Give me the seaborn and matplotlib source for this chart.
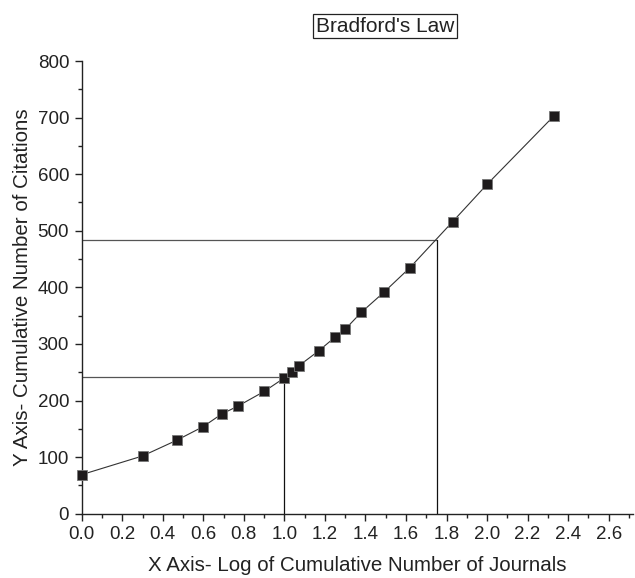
import matplotlib
matplotlib.use("Agg")
import matplotlib.pyplot as plt
import seaborn as sns
import pandas as pd
from matplotlib.ticker import MultipleLocator

# Data
log_journals = [0.0, 0.30, 0.47, 0.60, 0.69, 0.77, 0.90, 1.0, 1.04, 1.07,
                1.17, 1.25, 1.30, 1.38, 1.49, 1.62, 1.83, 2.0, 2.33]
citations = [69, 102, 130, 154, 176, 190, 216, 240, 251, 261,
             288, 312, 326, 356, 391, 435, 516, 582, 703]
ref_x = [1.0, 1.754]
ref_y = [242, 483]

title = "Bradford's Law"
xlabel = "X Axis- Log of Cumulative Number of Journals"
ylabel = "Y Axis- Cumulative Number of Citations"

sns.set_style("ticks")
plt.rcParams['font.family'] = ['Liberation Sans', 'DejaVu Sans']

df = pd.DataFrame({"x": log_journals, "y": citations})

fig = plt.figure(figsize=(6.35, 5.78), dpi=100)
ax = fig.add_axes([81.7 / 635, 64.3 / 578, (633 - 81.7) / 635, (513.7 - 61) / 578])

# reference lines
for rx, ry in zip(ref_x, ref_y):
    ax.plot([0, rx], [ry, ry], color="#555555", lw=0.9, zorder=1)
    ax.plot([rx, rx], [0, ry], color="#111111", lw=0.9, zorder=1)

sns.lineplot(data=df, x="x", y="y", ax=ax, color="#333333", lw=0.8,
             marker="s", markersize=7.5, markerfacecolor="#1e1b1c",
             markeredgecolor="#777777", markeredgewidth=0.6,
             sort=False, clip_on=False, zorder=3)

ax.set_xlim(0, 2.72)
ax.set_ylim(0, 800)
ax.xaxis.set_major_locator(MultipleLocator(0.2))
ax.xaxis.set_minor_locator(MultipleLocator(0.1))
ax.yaxis.set_major_locator(MultipleLocator(100))
ax.yaxis.set_minor_locator(MultipleLocator(50))
ax.xaxis.set_major_formatter(matplotlib.ticker.FormatStrFormatter("%.1f"))

for s in ["top", "right"]:
    ax.spines[s].set_visible(False)
for s in ["left", "bottom"]:
    ax.spines[s].set_linewidth(1.0)
    ax.spines[s].set_color("#222222")

ax.tick_params(axis="both", which="major", direction="out", length=5, width=1.0,
               labelsize=13.5, colors="#222222", pad=4)
ax.tick_params(axis="both", which="minor", direction="out", length=3, width=1.0,
               colors="#222222")

ax.set_xlabel(xlabel, fontsize=14.8, color="#222222", labelpad=9)
ax.set_ylabel(ylabel, fontsize=14.8, color="#222222", labelpad=4)

fig.text(385 / 635, 1 - 26 / 578, title, ha="center", va="center",
         fontsize=15, color="#222222",
         bbox=dict(boxstyle="square,pad=0.14", facecolor="white",
                   edgecolor="#222222", linewidth=0.9))

fig.savefig("out.png", dpi=100)
